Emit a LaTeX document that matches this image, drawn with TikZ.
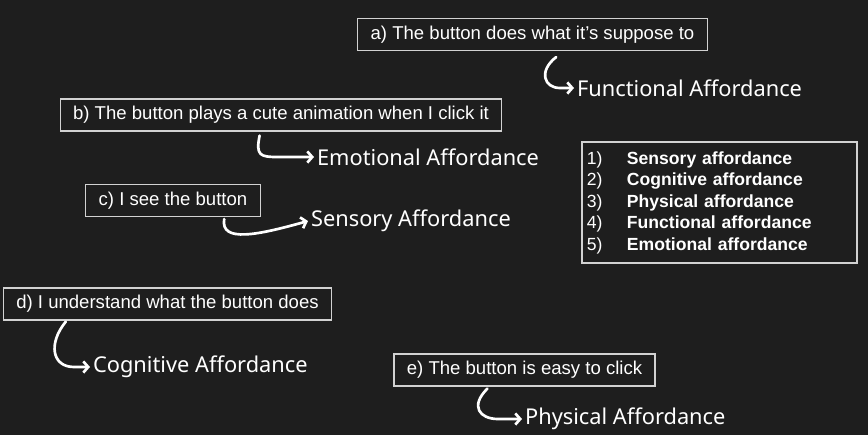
\documentclass[tikz,border=0pt]{standalone}
\usepackage{fontspec}
\setmainfont{Liberation Sans}
\newfontfamily\handfont{Noto Sans}
\usetikzlibrary{positioning,arrows.meta,calc}
\definecolor{boardbg}{HTML}{1E1E1E}
\definecolor{boxline}{HTML}{D2D2D2}

\begin{document}
\begin{tikzpicture}[
    x=0.025cm,
    y=-0.025cm,
    color=white,
    font=\fontsize{13.2}{15.8}\selectfont,
    casebox/.style={
        draw=boxline,
        line width=0.8pt,
        fill=boardbg,
        minimum height=0.8cm,
        inner xsep=9.2pt,
        inner ysep=0pt
    },
    listbox/.style={
        casebox,
        text width=6.625cm,
        inner xsep=0.125cm,
        minimum height=3.025cm,
        align=left,
        font=\fontsize{12.5}{15.3}\selectfont
    },
    hwlabel/.style={
        anchor=west,
        inner sep=2pt,
        font=\handfont\fontsize{15.5}{18}\selectfont
    },
    hand/.style={
        line width=1.9pt,
        line cap=round,
        line join=round,
        -{Straight Barb[length=3.5pt,width=8pt]}
    }
]

% ============================================================
% BACKGROUND
% ============================================================
\fill[boardbg] (0,0) rectangle (868,435);
\useasboundingbox (0,0) rectangle (868,435);

% ============================================================
% CASES
% ============================================================
\node[casebox] (casea) at (532.5,34.5) {a) The button does what it’s suppose to};
\node[casebox] (caseb) at (281,115) {b) The button plays a cute animation when I click it};
\node[casebox] (casec) at (173,200.5) {c) I see the button};
\node[casebox] (cased) at (167.5,304) {d) I understand what the button does};
\node[casebox] (casee) at (524.5,370) {e) The button is easy to click};

% list of affordance types
\node[listbox] (types) at (719.5,202.5) {%
    \makebox[1cm][l]{1)}\textbf{Sensory affordance}\\
    \makebox[1cm][l]{2)}\textbf{Cognitive affordance}\\
    \makebox[1cm][l]{3)}\textbf{Physical affordance}\\
    \makebox[1cm][l]{4)}\textbf{Functional affordance}\\
    \makebox[1cm][l]{5)}\textbf{Emotional affordance}};

% ============================================================
% HANDWRITTEN ANSWERS
% ============================================================
\node[hwlabel] (funcl) at (574,88) {Functional Affordance};
\node[hwlabel] (emol) at (314,157) {Emotional Affordance};
\node[hwlabel] (sensl) at (308,221) {Sensory Affordance};
\node[hwlabel] (cogl) at (90,367) {Cognitive Affordance};
\node[hwlabel] (physl) at (522,419) {Physical Affordance};

\draw[hand] ($(casea.south west)+(199,6)$) .. controls +(-18,14) and +(-16,0) ..
    ($(funcl.west)+(-14,0)$) -- (funcl.west);
\draw[hand] ($(caseb.south west)+(200,4)$) .. controls +(-4,20) and +(-18,0) ..
    ($(emol.west)+(-36,0)$) -- (emol.west);
\draw[hand] ($(casec.south west)+(139,2)$) .. controls +(-4,24) and +(-50,14) .. (sensl.west);
\draw[hand] ($(cased.south west)+(63,1)$) .. controls +(-18,22) and +(-22,0) ..
    ($(cogl.west)+(-16,0)$) -- (cogl.west);
\draw[hand] ($(casee.south west)+(94,2)$) .. controls +(-18,18) and +(-18,0) ..
    ($(physl.west)+(-24,0)$) -- (physl.west);

\end{tikzpicture}
\end{document}
